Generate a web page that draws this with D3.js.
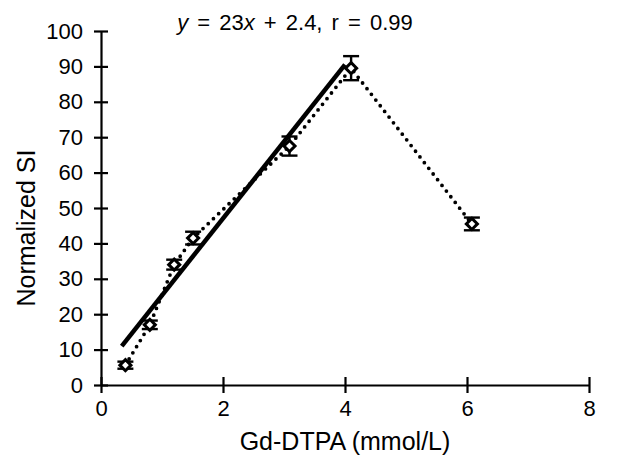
<!DOCTYPE html>
<html>
<head>
<meta charset="utf-8">
<script src="https://cdn.jsdelivr.net/npm/d3@7"></script>
<style>
  body { margin: 0; background: #fff; }
  text { font-family: "Liberation Sans", Arial, sans-serif; fill: #000; }
</style>
</head>
<body>
<script>
// measured points (Gd-DTPA mmol/L vs normalized SI)
const concX = [0.4, 0.8, 1.2, 1.51, 3.09, 4.1, 6.08];
const signalY = [5.6, 17, 34, 41.5, 67.5, 89.5, 45.5];
const errY = [1, 1.2, 1.4, 1.8, 2.7, 3.4, 1.8];
// fitted line, as drawn
const fitX = [0.34, 4.0];
const fitY = [11, 90.5];
const xTicks = [0, 2, 4, 6, 8];
const yTicks = [0, 10, 20, 30, 40, 50, 60, 70, 80, 90, 100];

const width = 628, height = 467;
const margin = { top: 31, right: 39, bottom: 82, left: 101 };

const svg = d3.select("body").append("svg")
    .attr("width", width)
    .attr("height", height);

const x = d3.scaleLinear().domain([0, 8]).range([margin.left, width - margin.right]);
const y = d3.scaleLinear().domain([0, 100]).range([height - margin.bottom, margin.top]);

// axes with ticks crossing the line
const xAxis = svg.append("g")
    .attr("transform", "translate(0," + y(0) + ")")
    .call(d3.axisBottom(x).tickValues(xTicks).tickSize(8).tickSizeOuter(0).tickPadding(7));
xAxis.selectAll(".tick line").attr("y1", -8);

const yAxis = svg.append("g")
    .attr("transform", "translate(" + x(0) + ",0)")
    .call(d3.axisLeft(y).tickValues(yTicks).tickSize(7).tickSizeOuter(0).tickPadding(11));
yAxis.selectAll(".tick line").attr("x1", 7);

svg.selectAll(".domain, .tick line").attr("stroke", "#000").attr("stroke-width", 2.2);
svg.selectAll(".tick text").style("font-size", "22px").attr("fill", "#000");

// dotted connecting line
const line = d3.line().x((d, i) => x(concX[i])).y(d => y(d));
svg.append("path")
    .datum(signalY)
    .attr("d", line)
    .attr("fill", "none")
    .attr("stroke", "#000")
    .attr("stroke-width", 3.8)
    .attr("stroke-linecap", "round")
    .attr("stroke-dasharray", "0,7.2");

// regression line
svg.append("line")
    .attr("x1", x(fitX[0])).attr("y1", y(fitY[0]))
    .attr("x2", x(fitX[1])).attr("y2", y(fitY[1]))
    .attr("stroke", "#000")
    .attr("stroke-width", 4.5);

// error bars
const eb = svg.append("g").attr("stroke", "#000").attr("stroke-width", 2.4);
concX.forEach((cx, i) => {
    const px = x(cx), lo = y(signalY[i] - errY[i]), hi = y(signalY[i] + errY[i]);
    eb.append("line").attr("x1", px).attr("x2", px).attr("y1", lo).attr("y2", hi);
    eb.append("line").attr("x1", px - 8).attr("x2", px + 8).attr("y1", lo).attr("y2", lo);
    eb.append("line").attr("x1", px - 8).attr("x2", px + 8).attr("y1", hi).attr("y2", hi);
});

// diamond markers
const diamond = d3.symbol().type(d3.symbolDiamond2).size(78);
svg.append("g").selectAll("path")
    .data(signalY)
    .join("path")
    .attr("d", diamond)
    .attr("transform", (d, i) => "translate(" + x(concX[i]) + "," + y(d) + ")")
    .attr("fill", "#fff")
    .attr("stroke", "#000")
    .attr("stroke-width", 3);

// equation
const eq = svg.append("text")
    .attr("x", 295).attr("y", 30)
    .attr("text-anchor", "middle")
    .style("font-size", "22px")
    .style("word-spacing", "3px");
eq.append("tspan").style("font-style", "italic").text("y");
eq.append("tspan").text(" = 23");
eq.append("tspan").style("font-style", "italic").text("x");
eq.append("tspan").text(" + 2.4,  r = 0.99");

// axis titles
svg.append("text")
    .attr("x", 345).attr("y", 450)
    .attr("text-anchor", "middle")
    .style("font-size", "25px")
    .text("Gd-DTPA (mmol/L)");

svg.append("text")
    .attr("transform", "translate(35,228) rotate(-90)")
    .attr("text-anchor", "middle")
    .style("font-size", "25px")
    .text("Normalized SI");
</script>
</body>
</html>
